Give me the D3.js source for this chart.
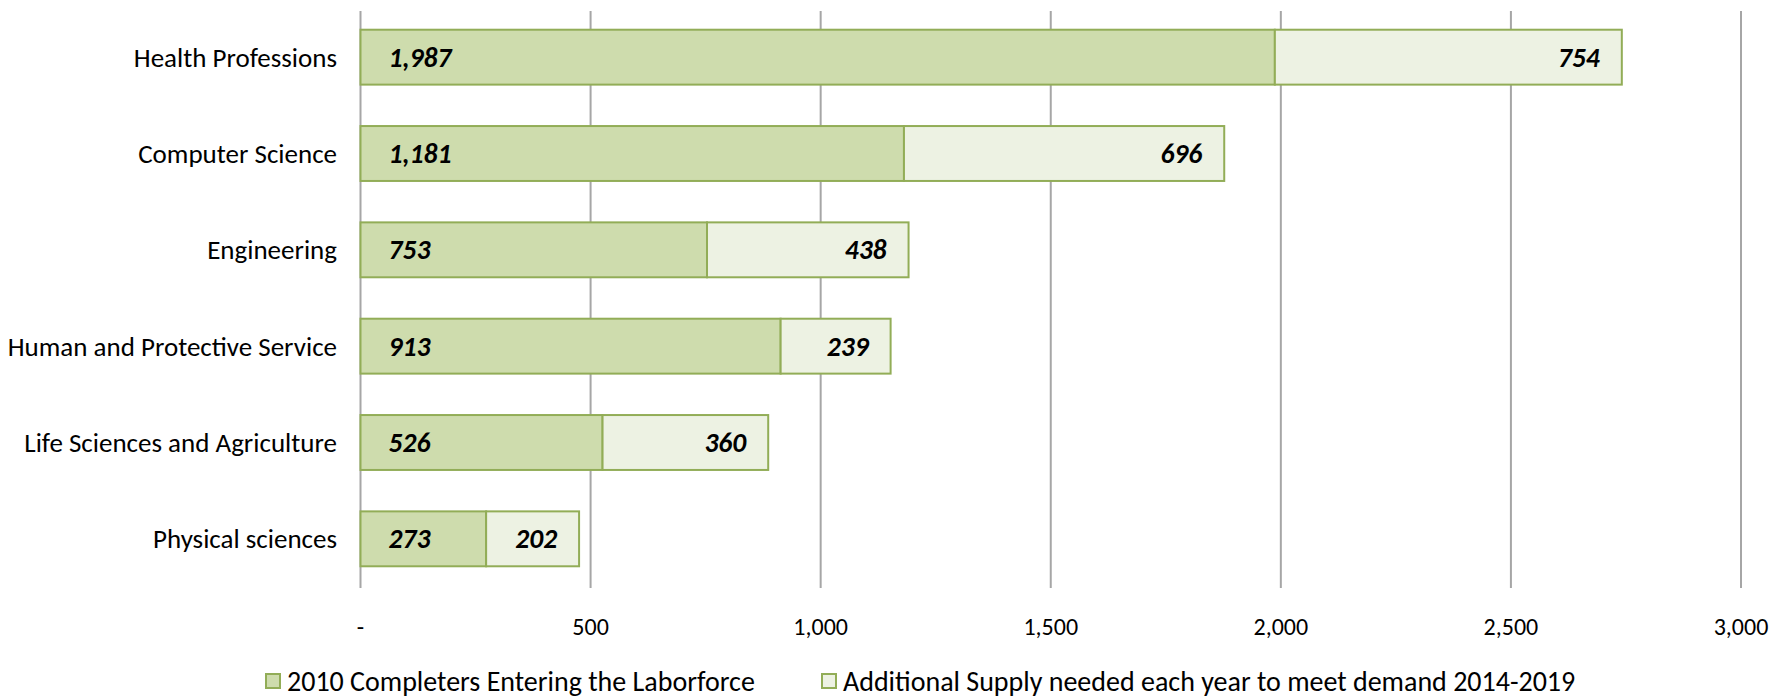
<!DOCTYPE html>
<html>
<head>
<meta charset="utf-8">
<script src="https://cdn.jsdelivr.net/npm/d3@7"></script>
<style>
  body { margin: 0; background: #fff; overflow: hidden; }
  svg text { font-family: Carlito, Calibri, Lato, sans-serif; fill: #000; }
</style>
</head>
<body>
<div id="chart"></div>
<script>
// Data
const categories = [
  'Health Professions',
  'Computer Science',
  'Engineering',
  'Human and Protective Service',
  'Life Sciences and Agriculture',
  'Physical sciences'
];
const completers2010 = [1987, 1181, 753, 913, 526, 273];
const additionalSupply = [754, 696, 438, 239, 360, 202];
const tickValues = [0, 500, 1000, 1500, 2000, 2500, 3000];
const seriesNames = [
  '2010 Completers Entering the Laborforce',
  'Additional Supply needed each year to meet demand 2014-2019'
];

const W = 1783, H = 699;
const colors = { fill1: '#cedcad', fill2: '#edf2e3', stroke: '#92ad57', grid: '#a6a6a6' };

const svg = d3.select('#chart').append('svg')
  .attr('width', W)
  .attr('height', H)
  .style('display', 'block');

const x = d3.scaleLinear()
  .domain([0, 3000])
  .range([360.5, 1741]);

const y = d3.scaleBand()
  .domain(categories)
  .range([9, 587])
  .paddingInner(0.43)
  .paddingOuter(0.215);

// Gridlines (behind bars)
svg.append('g')
  .selectAll('line')
  .data(tickValues)
  .enter().append('line')
  .attr('x1', d => x(d))
  .attr('x2', d => x(d))
  .attr('y1', 11)
  .attr('y2', 588)
  .attr('stroke', colors.grid)
  .attr('stroke-width', 2);

// Tick labels
const fmt = d3.format(',');
svg.append('g')
  .selectAll('text')
  .data(tickValues)
  .enter().append('text')
  .attr('x', d => x(d))
  .attr('y', 627)
  .attr('dy', '0.35em')
  .attr('text-anchor', 'middle')
  .style('font-size', '24px')
  .text(d => d === 0 ? '-' : fmt(d));

// Category labels
svg.append('g')
  .selectAll('text')
  .data(categories)
  .enter().append('text')
  .attr('x', 337)
  .attr('y', d => y(d) + y.bandwidth() / 2)
  .attr('dy', '0.35em')
  .attr('text-anchor', 'end')
  .style('font-size', '27px')
  .text(d => d);

const rows = categories.map((c, i) => ({ cat: c, a: completers2010[i], b: additionalSupply[i] }));

// Series 1 bars
svg.append('g')
  .selectAll('rect')
  .data(rows)
  .enter().append('rect')
  .attr('x', x(0))
  .attr('y', d => y(d.cat))
  .attr('width', d => x(d.a) - x(0))
  .attr('height', y.bandwidth())
  .attr('fill', colors.fill1)
  .attr('stroke', colors.stroke)
  .attr('stroke-width', 2);

// Series 2 bars (stacked on series 1)
svg.append('g')
  .selectAll('rect')
  .data(rows)
  .enter().append('rect')
  .attr('x', d => x(d.a))
  .attr('y', d => y(d.cat))
  .attr('width', d => x(d.a + d.b) - x(d.a))
  .attr('height', y.bandwidth())
  .attr('fill', colors.fill2)
  .attr('stroke', colors.stroke)
  .attr('stroke-width', 2);

// Data labels
svg.append('g')
  .selectAll('text')
  .data(rows)
  .enter().append('text')
  .attr('x', x(0) + 28)
  .attr('y', d => y(d.cat) + y.bandwidth() / 2)
  .attr('dy', '0.35em')
  .style('font-size', '27.5px')
  .style('font-weight', 'bold')
  .style('font-style', 'italic')
  .text(d => fmt(d.a));

svg.append('g')
  .selectAll('text')
  .data(rows)
  .enter().append('text')
  .attr('x', d => x(d.a + d.b) - 22)
  .attr('y', d => y(d.cat) + y.bandwidth() / 2)
  .attr('dy', '0.35em')
  .attr('text-anchor', 'end')
  .style('font-size', '27.5px')
  .style('font-weight', 'bold')
  .style('font-style', 'italic')
  .text(d => fmt(d.b));

// Legend
const legendX = [266, 822];
const legend = svg.append('g')
  .selectAll('g')
  .data(seriesNames)
  .enter().append('g')
  .attr('transform', (d, i) => `translate(${legendX[i]},674)`);

legend.append('rect')
  .attr('width', 14)
  .attr('height', 14)
  .attr('fill', (d, i) => i === 0 ? colors.fill1 : colors.fill2)
  .attr('stroke', colors.stroke)
  .attr('stroke-width', 2);

legend.append('text')
  .attr('x', 21)
  .attr('y', 7)
  .attr('dy', '0.35em')
  .style('font-size', '28px')
  .text(d => d);
</script>
</body>
</html>
